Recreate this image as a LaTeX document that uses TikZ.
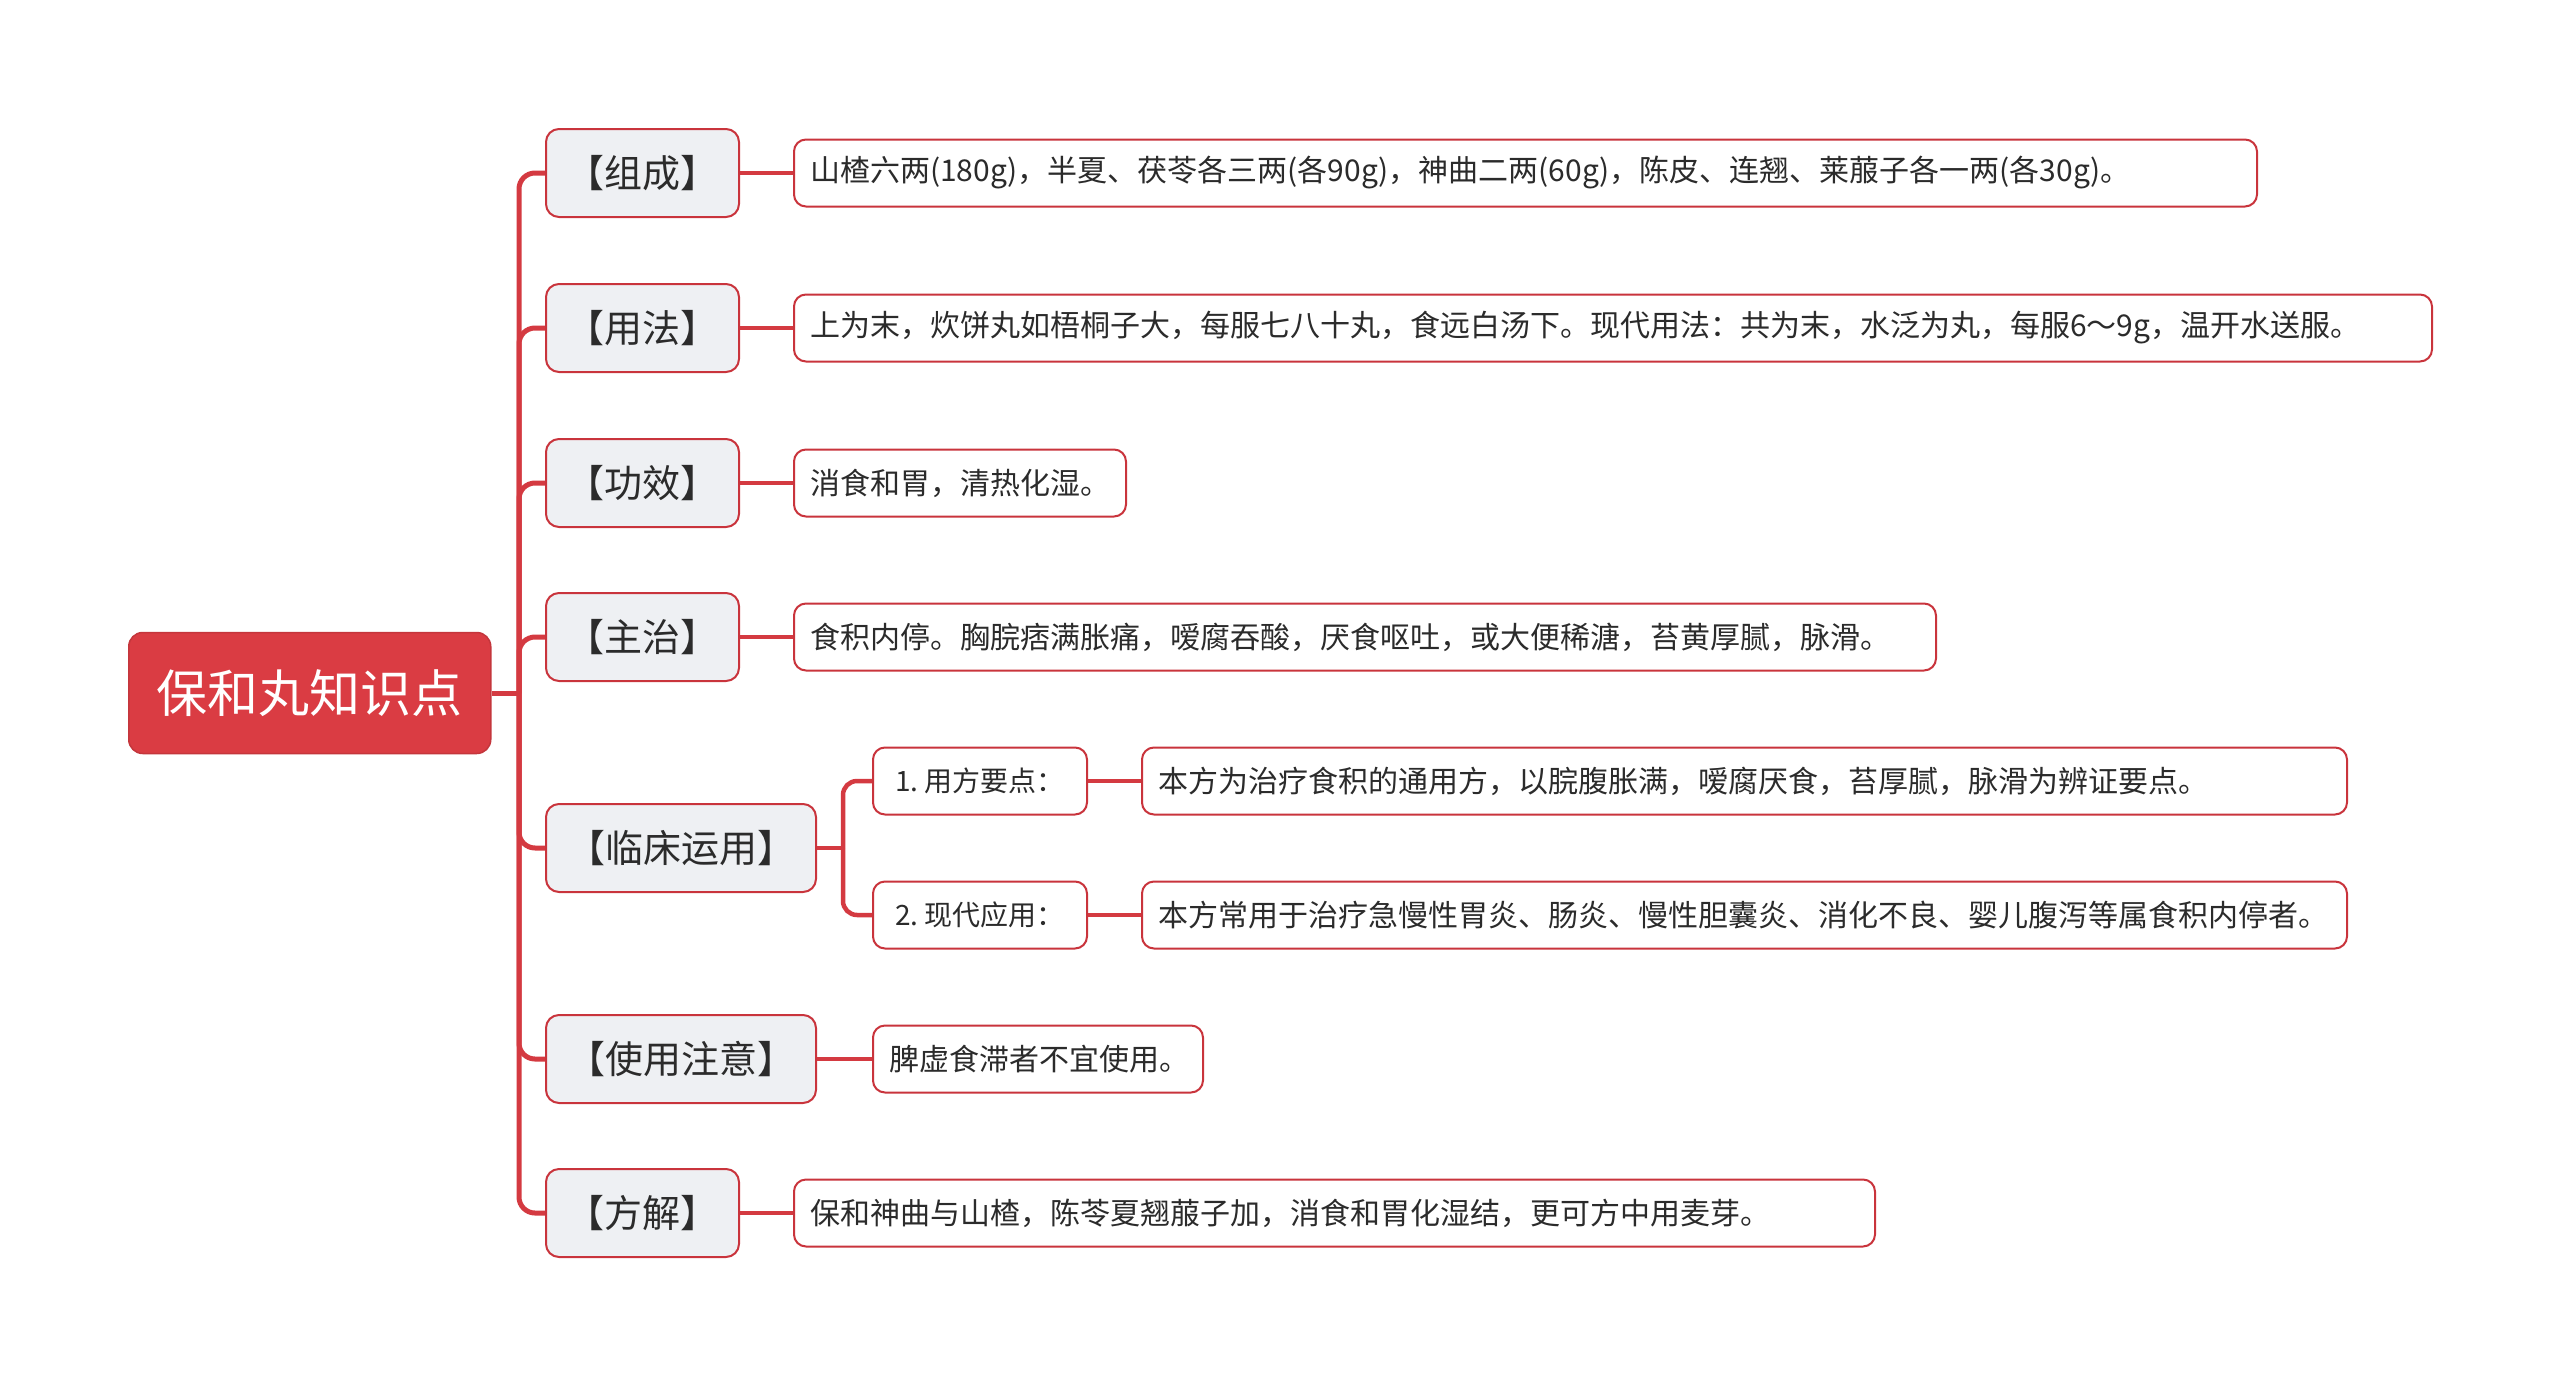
\documentclass[tikz,border=0pt]{standalone}
\usepackage{fontspec}
\setmainfont{Noto Sans CJK SC}
\definecolor{rootred}{HTML}{DA3C43}
\definecolor{bordred}{HTML}{C9343C}
\definecolor{linered}{HTML}{D43A41}
\definecolor{lvfill}{HTML}{EEF0F3}
\definecolor{txt}{HTML}{2B2B2B}
\begin{document}
\begin{tikzpicture}[x=1pt,y=-1pt,
  rootbox/.style={fill=rootred, draw=rootred!90!black, line width=1.5, rounded corners=14,
    text=white, font=\fontsize{51}{60}\selectfont, minimum width=362, minimum height=121, inner sep=0, anchor=west},
  lvbox/.style={fill=lvfill, draw=bordred, line width=2, rounded corners=13,
    text=txt, font=\fontsize{38}{46}\selectfont, minimum height=88, inner sep=0, anchor=west},
  leafbox/.style={fill=white, draw=bordred, line width=2, rounded corners=12,
    text=txt, font=\fontsize{30}{36}\selectfont, minimum height=67, inner xsep=16, inner ysep=0, align=left, anchor=west},
  subbox/.style={fill=white, draw=bordred, line width=2, rounded corners=12,
    text=txt, font=\fontsize{28}{34}\selectfont, minimum height=67, minimum width=214, inner xsep=9, inner ysep=0, anchor=west},
  conn/.style={draw=linered, line width=5, rounded corners=16},
  lconn/.style={draw=linered, line width=4.5}
]
\useasboundingbox (0,0) rectangle (2560,1387);

% root
\node[rootbox] (root) at (128,693) {保和丸知识点};
\coordinate (J) at (519,693);

% level 1
\node[lvbox, minimum width=193] (c1) at (545,173) {【组成】};
\node[lvbox, minimum width=193] (c2) at (545,328) {【用法】};
\node[lvbox, minimum width=193] (c3) at (545,483) {【功效】};
\node[lvbox, minimum width=193] (c4) at (545,637) {【主治】};
\node[lvbox, minimum width=270] (c5) at (545,848) {【临床运用】};
\node[lvbox, minimum width=270] (c6) at (545,1059) {【使用注意】};
\node[lvbox, minimum width=193] (c7) at (545,1213) {【方解】};

% leaves
\node[leafbox, text width=1431] (l1) at (793,173) {山楂六两(180g)，半夏、茯苓各三两(各90g)，神曲二两(60g)，陈皮、连翘、莱菔子各一两(各30g)。};
\node[leafbox, text width=1606] (l2) at (793,328) {上为末，炊饼丸如梧桐子大，每服七八十丸，食远白汤下。现代用法：共为末，水泛为丸，每服6～9g，温开水送服。};
\node[leafbox, text width=300] (l3) at (793,483) {消食和胃，清热化湿。};
\node[leafbox, text width=1110] (l4) at (793,637) {食积内停。胸脘痞满胀痛，嗳腐吞酸，厌食呕吐，或大便稀溏，苔黄厚腻，脉滑。};
\node[subbox] (s1) at (872,781) {1.~用方要点：};
\node[subbox] (s2) at (872,915) {2.~现代应用：};
\node[leafbox, text width=1173] (l5a) at (1141,781) {本方为治疗食积的通用方，以脘腹胀满，嗳腐厌食，苔厚腻，脉滑为辨证要点。};
\node[leafbox, text width=1173] (l5b) at (1141,915) {本方常用于治疗急慢性胃炎、肠炎、慢性胆囊炎、消化不良、婴儿腹泻等属食积内停者。};
\node[leafbox, text width=298] (l6) at (872,1059) {脾虚食滞者不宜使用。};
\node[leafbox, text width=1049] (l7) at (793,1213) {保和神曲与山楂，陈苓夏翘菔子加，消食和胃化湿结，更可方中用麦芽。};

% connectors root -> level 1
\draw[conn] (root.east) -- (J);
\foreach \c in {c1,c2,c3,c4,c5,c6,c7}{
  \draw[conn] (J) |- (\c.west);
}
\draw[lconn] (c1.east) -- (l1.west);
\draw[lconn] (c2.east) -- (l2.west);
\draw[lconn] (c3.east) -- (l3.west);
\draw[lconn] (c4.east) -- (l4.west);
\draw[lconn] (c6.east) -- (l6.west);
\draw[lconn] (c7.east) -- (l7.west);
\coordinate (K) at (843,848);
\draw[lconn] (c5.east) -- (K);
\draw[lconn, rounded corners=14] (K) |- (s1.west);
\draw[lconn, rounded corners=14] (K) |- (s2.west);
\draw[lconn] (s1.east) -- (l5a.west);
\draw[lconn] (s2.east) -- (l5b.west);
\end{tikzpicture}
\end{document}
